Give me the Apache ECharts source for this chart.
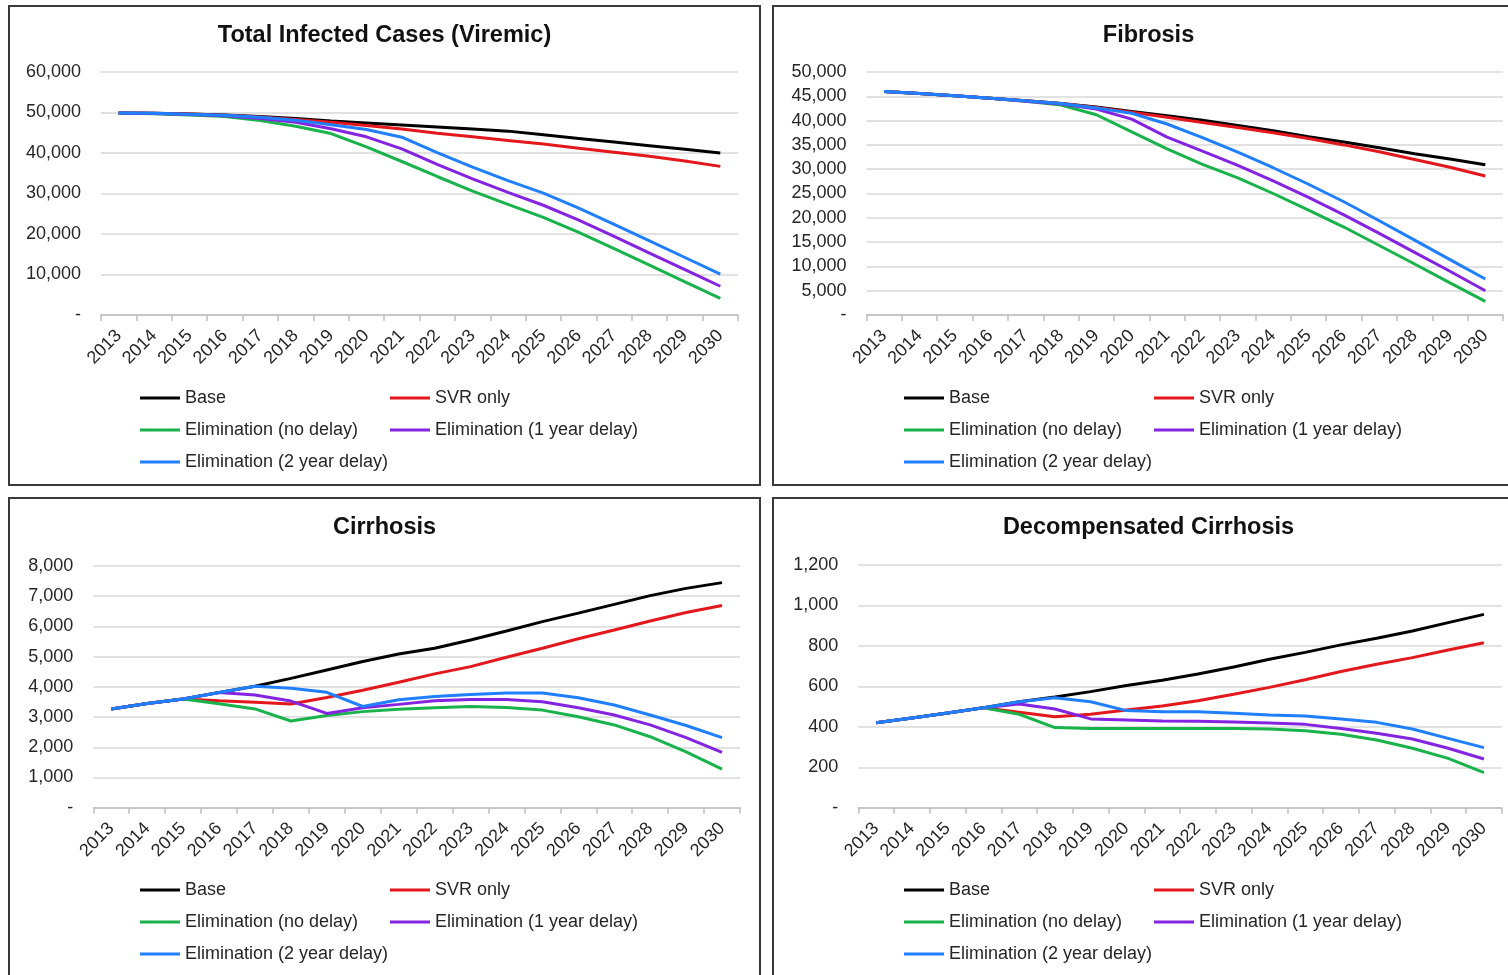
<!DOCTYPE html>
<html>
<head>
<meta charset="utf-8">
<script src="https://cdn.jsdelivr.net/npm/echarts@6/dist/echarts.min.js"></script>
<style>
  html, body { margin: 0; padding: 0; background: #fff; overflow: hidden; }
  #page { position: relative; width: 1508px; height: 975px; overflow: hidden; }
  .panel { position: absolute; width: 753px; height: 481px; box-sizing: border-box; border: 2px solid #3a3a3a; background: #fff; }
  .panel .chart { width: 749px; height: 477px; }
</style>
</head>
<body>
<div id="page">
  <div class="panel" style="left:8px;top:5px"><div class="chart" id="c1"></div></div>
  <div class="panel" style="left:772px;top:5px"><div class="chart" id="c2"></div></div>
  <div class="panel" style="left:8px;top:497px"><div class="chart" id="c3"></div></div>
  <div class="panel" style="left:772px;top:497px"><div class="chart" id="c4"></div></div>
</div>
<script>
// Projection years shared by all four panels
const years = ['2013','2014','2015','2016','2017','2018','2019','2020','2021','2022','2023','2024','2025','2026','2027','2028','2029','2030'];

const seriesNames = ['Base', 'SVR only', 'Elimination (no delay)', 'Elimination (1 year delay)', 'Elimination (2 year delay)'];
const seriesColors = ['#000000', '#e3171c', '#19b24b', '#8424e0', '#1f7fff'];

// Total infected cases (viremic)
const totalBase     = [49900, 49800, 49600, 49400, 49000, 48500, 47900, 47400, 46900, 46400, 45900, 45400, 44500, 43600, 42700, 41800, 40900, 40000];
const totalSvr      = [49900, 49800, 49600, 49300, 48900, 48300, 47600, 46800, 45900, 44900, 44000, 43100, 42200, 41200, 40200, 39200, 38000, 36700];
const totalNoDelay  = [49900, 49700, 49400, 49000, 48000, 46600, 44800, 41500, 37900, 34200, 30600, 27300, 24100, 20400, 16400, 12300, 8200, 4100];
const totalDelay1   = [49900, 49750, 49500, 49200, 48500, 47600, 46000, 44000, 41000, 37200, 33600, 30300, 27100, 23400, 19400, 15300, 11200, 7100];
const totalDelay2   = [49900, 49800, 49550, 49300, 48800, 48100, 47000, 45800, 43900, 40100, 36500, 33200, 30100, 26400, 22400, 18300, 14200, 10100];

// Fibrosis
const fibBase       = [46000, 45600, 45100, 44600, 44100, 43500, 42800, 41900, 41000, 40100, 39000, 37900, 36700, 35600, 34400, 33200, 32100, 30900];
const fibSvr        = [46000, 45600, 45100, 44600, 44100, 43500, 42700, 41700, 40700, 39600, 38600, 37500, 36300, 35000, 33600, 32000, 30400, 28600];
const fibNoDelay    = [46000, 45600, 45100, 44600, 44000, 43200, 41200, 37700, 34200, 31000, 28200, 25000, 21600, 18100, 14300, 10500, 6600, 2800];
const fibDelay1     = [46000, 45600, 45100, 44600, 44000, 43400, 42400, 40300, 36600, 33700, 30800, 27600, 24200, 20600, 16800, 12900, 9000, 5000];
const fibDelay2     = [46000, 45600, 45100, 44600, 44100, 43500, 42600, 41500, 39300, 36500, 33500, 30300, 26900, 23300, 19400, 15400, 11400, 7400];

// Cirrhosis
const cirBase       = [3270, 3450, 3600, 3810, 4020, 4280, 4560, 4840, 5090, 5280, 5550, 5850, 6160, 6440, 6730, 7020, 7260, 7450];
const cirSvr        = [3270, 3450, 3600, 3540, 3490, 3430, 3650, 3890, 4150, 4430, 4670, 4980, 5280, 5590, 5880, 6180, 6460, 6690];
const cirNoDelay    = [3270, 3450, 3600, 3440, 3270, 2870, 3050, 3180, 3260, 3310, 3350, 3320, 3230, 3010, 2740, 2350, 1850, 1280];
const cirDelay1     = [3270, 3450, 3600, 3810, 3730, 3530, 3120, 3310, 3420, 3540, 3580, 3580, 3510, 3310, 3070, 2740, 2320, 1830];
const cirDelay2     = [3270, 3450, 3600, 3810, 4020, 3950, 3820, 3350, 3570, 3680, 3750, 3800, 3800, 3640, 3400, 3070, 2720, 2320];

// Decompensated cirrhosis
const decBase       = [420, 444, 468, 494, 524, 547, 574, 604, 630, 661, 696, 734, 768, 805, 838, 874, 915, 956];
const decSvr        = [420, 444, 468, 494, 472, 450, 462, 483, 503, 529, 561, 595, 633, 673, 709, 742, 780, 816];
const decNoDelay    = [420, 444, 468, 494, 462, 396, 391, 391, 391, 392, 392, 389, 381, 363, 335, 294, 244, 173];
const decDelay1     = [420, 444, 468, 494, 513, 488, 439, 434, 429, 427, 424, 419, 412, 392, 368, 340, 294, 241];
const decDelay2     = [420, 444, 468, 494, 524, 544, 524, 480, 475, 475, 467, 458, 453, 439, 422, 389, 343, 297];

const FONT = '"Liberation Sans", Arial, Helvetica, sans-serif';
const TEXT = '#262626';

function fmt(v) {
  return v === 0 ? '-' : v.toLocaleString('en-US');
}

function legendCol(names, left) {
  return {
    data: names,
    orient: 'vertical',
    left: left,
    top: 381,
    padding: 0,
    itemGap: 12,
    itemWidth: 40,
    itemHeight: 3,
    icon: 'rect',
    selectedMode: false,
    textStyle: { fontFamily: FONT, fontSize: 18, color: TEXT, lineHeight: 20 }
  };
}

function drawPanel(id, title, grid, yMax, yStep, values) {
  const chart = echarts.init(document.getElementById(id), null, { renderer: 'canvas' });
  chart.setOption({
    animation: false,
    backgroundColor: '#fff',
    title: {
      text: title,
      left: 'center',
      top: 17,
      padding: 0,
      textStyle: { fontFamily: FONT, fontSize: 23.5, fontWeight: 'bold', color: '#111' }
    },
    legend: [
      legendCol([seriesNames[0], seriesNames[2], seriesNames[4]], 130),
      legendCol([seriesNames[1], seriesNames[3]], 380)
    ],
    grid: grid,
    xAxis: {
      type: 'category',
      data: years,
      boundaryGap: true,
      axisLine: { lineStyle: { color: '#bfbfbf', width: 1.5 } },
      axisTick: { show: true, interval: 0, length: 6, lineStyle: { color: '#bfbfbf', width: 1.5 } },
      axisLabel: { interval: 0, rotate: 45, margin: 18, fontFamily: FONT, fontSize: 18, color: TEXT }
    },
    yAxis: {
      type: 'value',
      min: 0,
      max: yMax,
      interval: yStep,
      axisLine: { show: false },
      axisTick: { show: false },
      axisLabel: { margin: 20, fontFamily: FONT, fontSize: 18, color: TEXT, formatter: fmt },
      splitLine: { lineStyle: { color: '#d9d9d9', width: 1.5 } }
    },
    series: values.map((d, i) => ({
      name: seriesNames[i],
      type: 'line',
      data: d,
      symbol: 'none',
      smooth: false,
      lineStyle: { color: seriesColors[i], width: 3 },
      itemStyle: { color: seriesColors[i] }
    }))
  });
}

drawPanel('c1', 'Total Infected Cases (Viremic)',
  { left: 91, top: 65, width: 637, height: 243 }, 60000, 10000,
  [totalBase, totalSvr, totalNoDelay, totalDelay1, totalDelay2]);

drawPanel('c2', 'Fibrosis',
  { left: 92.5, top: 65, width: 636.5, height: 243 }, 50000, 5000,
  [fibBase, fibSvr, fibNoDelay, fibDelay1, fibDelay2]);

drawPanel('c3', 'Cirrhosis',
  { left: 83.3, top: 67, width: 646.7, height: 241.7 }, 8000, 1000,
  [cirBase, cirSvr, cirNoDelay, cirDelay1, cirDelay2]);

drawPanel('c4', 'Decompensated Cirrhosis',
  { left: 84.3, top: 66, width: 643.5, height: 242.7 }, 1200, 200,
  [decBase, decSvr, decNoDelay, decDelay1, decDelay2]);
</script>
</body>
</html>
